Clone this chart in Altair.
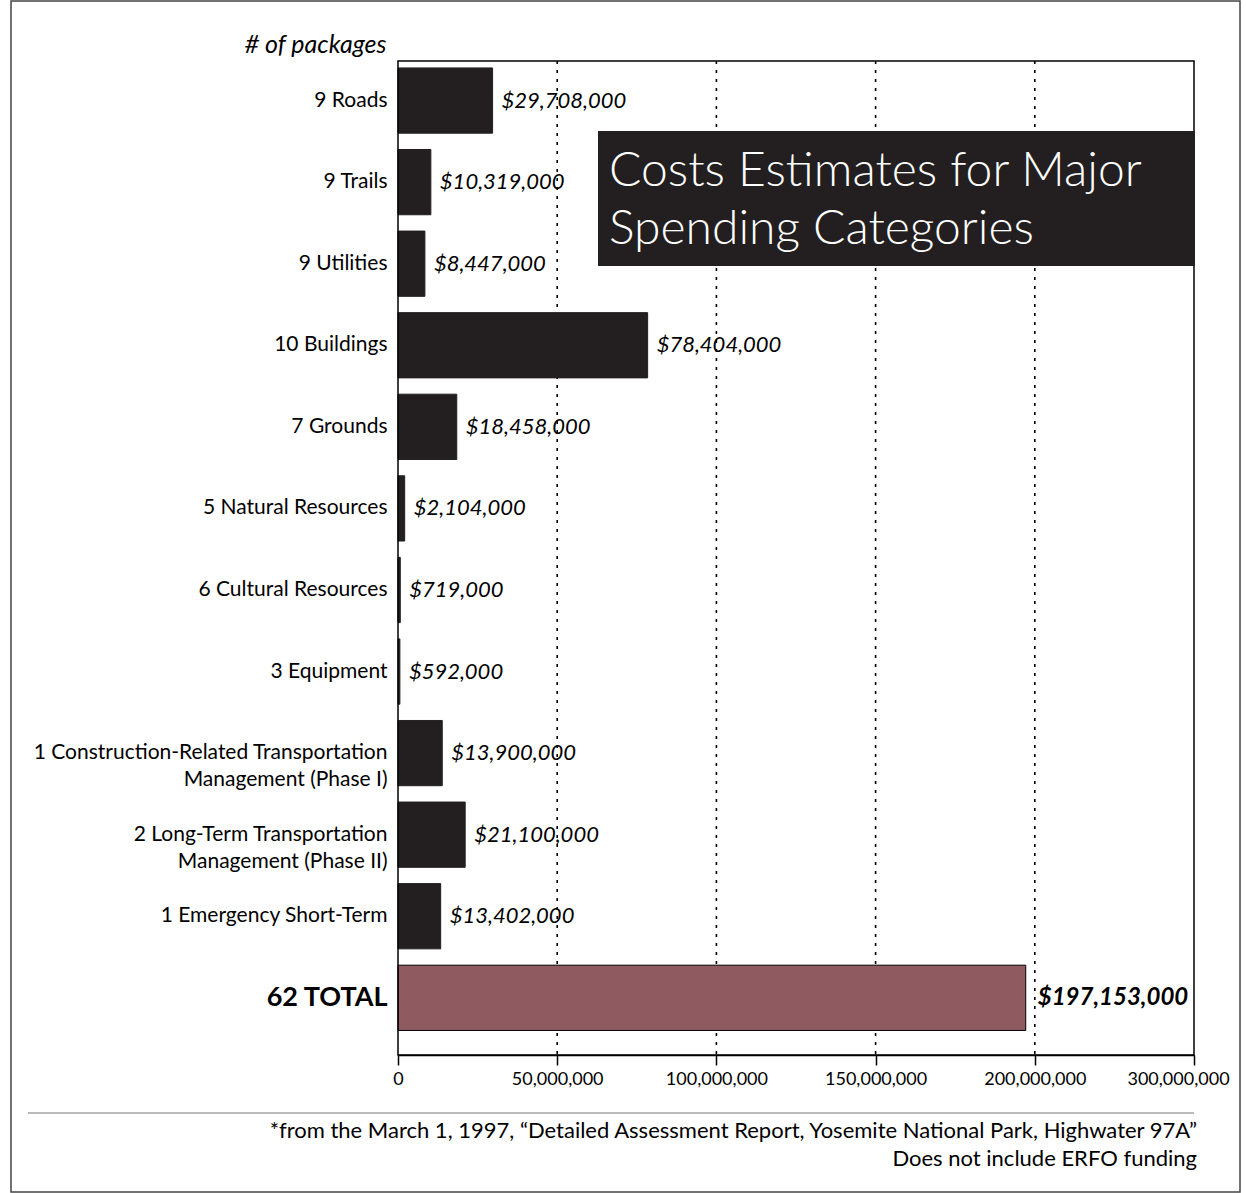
import altair as alt
import pandas as pd

categories = [
    "9 Roads", "9 Trails", "9 Utilities", "10 Buildings", "7 Grounds",
    "5 Natural Resources", "6 Cultural Resources", "3 Equipment",
    "1 Construction-Related Transportation|Management (Phase I)",
    "2 Long-Term Transportation|Management (Phase II)",
    "1 Emergency Short-Term", "62 TOTAL",
]
costs = [29708000, 10319000, 8447000, 78404000, 18458000, 2104000,
         719000, 592000, 13900000, 21100000, 13402000, 197153000]
x_ticks = [0, 50000000, 100000000, 150000000, 200000000, 250000000]
grid_values = [50000000, 100000000, 150000000, 200000000]
title_lines = "Costs Estimates for Major\nSpending Categories"
footnote_1 = "*from the March 1, 1997, \u201cDetailed Assessment Report, Yosemite National Park, Highwater 97A\u201d"
footnote_2 = "Does not include ERFO funding"

df = pd.DataFrame({"cat": categories, "cost": costs})
grid_df = pd.DataFrame({"g": grid_values})
TOTAL = "62 TOTAL"
DARK = "#231f20"

W, H = 796, 994

xscale = alt.Scale(domain=[0, 250000000], nice=False, zero=True)
yscale = alt.Scale(paddingInner=0.2, paddingOuter=0.193, align=0.22)

x_axis = alt.Axis(
    values=x_ticks, title=None, grid=False,
    domainColor="black", domainWidth=1.5, tickColor="black",
    tickWidth=1.5, tickSize=10, labelFontSize=18, labelColor="black",
    labelPadding=5, labelFont="Lato", labelOverlap=False, labelBound=False,
    labelFlush=False,
    labelExpr="datum.value == 250000000 ? '300,000,000' : format(datum.value, ',')",
    labelOffset={"condition": {"test": "datum.value == 250000000", "value": -16}, "value": 0},
)
y_axis = alt.Axis(
    title="# of packages", titleAngle=0, titleAlign="right", titleX=-12, titleY=-9,
    titleBaseline="alphabetic", titleFontSize=25, titleFontStyle="italic",
    titleFontWeight="normal", titleColor="black", titleFont="Lato",
    ticks=False, domain=False, labelPadding=11, labelColor="black", labelFont="Lato",
    labelExpr="split(datum.label, '|')", labelLineHeight=27, labelLimit=400,
    labelFontSize={"condition": {"test": f"datum.value == '{TOTAL}'", "value": 27}, "value": 21},
    labelFontWeight={"condition": {"test": f"datum.value == '{TOTAL}'", "value": "bold"}, "value": "normal"},
)

base = alt.Chart(df)

labels = base.transform_calculate(
    lab=f"datum.cat == '{TOTAL}' ? '' : '$' + format(datum.cost, ',')"
).mark_text(align="left", baseline="middle", dx=9, fontSize=22, fontStyle="italic",
            font="Lato", color="black").encode(
    x=alt.X("cost:Q", scale=xscale, axis=x_axis),
    y=alt.Y("cat:N", sort=None, scale=yscale, axis=y_axis),
    text="lab:N",
)

grid = alt.Chart(grid_df).mark_rule(color="black", strokeWidth=1.6, strokeDash=[3, 6]).encode(
    x=alt.X("g:Q", scale=xscale), y=alt.value(0), y2=alt.value(H),
)

bars = base.mark_bar().encode(
    x=alt.X("cost:Q", scale=xscale),
    y=alt.Y("cat:N", sort=None, scale=yscale),
    color=alt.condition(f"datum.cat == '{TOTAL}'", alt.value("#8f5a60"), alt.value(DARK)),
    stroke=alt.condition(f"datum.cat == '{TOTAL}'", alt.value("black"), alt.value(DARK)),
    strokeWidth=alt.value(1),
)

total_label = base.transform_calculate(
    lab=f"datum.cat == '{TOTAL}' ? '$' + format(datum.cost, ',') : ''"
).mark_text(align="left", baseline="middle", dx=12, fontSize=24, fontStyle="italic",
            fontWeight="bold", font="Lato", color="black").encode(
    x=alt.X("cost:Q", scale=xscale), y=alt.Y("cat:N", sort=None, scale=yscale),
    text="lab:N",
)

one = alt.Data(values=[{"k": 1}])

plot_box = alt.Chart(one).mark_rect(fill=None, stroke="black", strokeWidth=1.5).encode(
    x=alt.value(0), x2=alt.value(W), y=alt.value(0), y2=alt.value(H),
)
title_box = alt.Chart(one).mark_rect(color=DARK).encode(
    x=alt.value(200), x2=alt.value(797), y=alt.value(70), y2=alt.value(205),
)
title_text = alt.Chart(alt.Data(values=[{"t": title_lines}])).mark_text(
    align="left", baseline="alphabetic", fontSize=48, font="Lato", fontWeight=300,
    color="white", lineBreak="\n", lineHeight=58,
).encode(x=alt.value(211), y=alt.value(125), text="t:N")

frame = alt.Chart(one).mark_rect(fill=None, stroke="#444444", strokeWidth=1.5).encode(
    x=alt.value(-387), x2=alt.value(842), y=alt.value(-60), y2=alt.value(1131),
)
foot_rule = alt.Chart(one).mark_rule(color="#777777", strokeWidth=1).encode(
    x=alt.value(-370), x2=alt.value(796), y=alt.value(1052),
)
foot_text_1 = alt.Chart(alt.Data(values=[{"t": footnote_1}])).mark_text(
    align="right", baseline="alphabetic", fontSize=22, font="Lato", color="black",
).encode(x=alt.value(799), y=alt.value(1077), text="t:N")
foot_text_2 = alt.Chart(alt.Data(values=[{"t": footnote_2}])).mark_text(
    align="right", baseline="alphabetic", fontSize=22, font="Lato", color="black",
).encode(x=alt.value(799), y=alt.value(1105), text="t:N")

chart = alt.layer(
    labels, grid, bars, plot_box, total_label, title_box, title_text, frame, foot_rule,
    foot_text_1, foot_text_2,
).properties(
    width=W, height=H,
    autosize=alt.AutoSizeParams(type="none"),
    padding={"left": 398, "top": 61, "right": 52, "bottom": 138},
    background="white",
).configure(font="Lato").configure_view(stroke=None)

chart.save("out.html", embed_options={"renderer": "svg", "actions": False})
